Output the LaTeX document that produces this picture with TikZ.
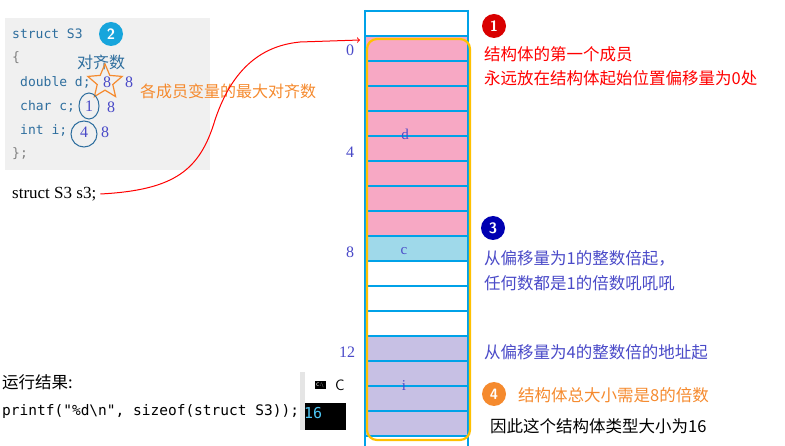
\documentclass[tikz,border=0pt]{standalone}
\usepackage{fontspec}
\setmainfont{Liberation Serif}
\newfontfamily\cjk{Noto Sans CJK SC}
\newfontfamily\mono{DejaVu Sans Mono}
\usetikzlibrary{shapes.geometric}
\definecolor{pinkc}{HTML}{F7A8C4}
\definecolor{cyanc}{HTML}{9FD9EA}
\definecolor{purc}{HTML}{C7C0E4}
\definecolor{bluel}{HTML}{00A2E8}
\definecolor{yel}{HTML}{FFC000}
\definecolor{numc}{HTML}{4A4AC8}
\definecolor{codec}{HTML}{2E6E9E}
\definecolor{orn}{HTML}{F58A2E}
\tikzset{
 cjkt/.style={font=\cjk\fontsize{16.5}{19}\selectfont, anchor=west, inner sep=0},
 num/.style={font=\fontsize{16}{18}\selectfont, text=numc, inner sep=0},
 code/.style={font=\mono\fontsize{13}{15}\selectfont, text=codec, anchor=west, inner sep=0},
 badge/.style={circle, fill=#1, text=white, minimum size=24pt, inner sep=0, font=\sffamily\bfseries\fontsize{15}{16}\selectfont}
}
\begin{document}
\begin{tikzpicture}[x=1pt,y=-1pt]
\useasboundingbox (0,0) rectangle (785,446);
% code box
\fill[gray!12] (5,18) rectangle (210,170);
\node[code] (l1) at (12,34) {struct S3};
\node[badge={cyan!80!teal}] (b2) at (111,34) {2};
\node[code,text=gray] (l2) at (12,58) {\{};
\node[code] (l3) at (20,82) {double d;};
\node[code] (l4) at (20,106) {char c;};
\node[code] (l5) at (20,130) {int i;};
\node[code,text=gray] (l6) at (12,154) {\};};
\node[font=\cjk\fontsize{16}{18}\selectfont, text=codec] (dq) at (101,62) {对齐数};
\node[star, star points=5, star point ratio=2.2, draw=orn, line width=1.2pt, minimum size=36pt, inner sep=0] (st) at (105,82) {};
\node[num] (n8a) at (107,82) {8};
\node[num] (n8b) at (129,82) {8};
\node[num] (n1) at (89,106) {1};
\node[draw=codec, ellipse, line width=1pt, minimum width=20pt, minimum height=26pt] (e1) at (89,106) {};
\node[num] (n8c) at (111,107) {8};
\node[num] (n4) at (84,132) {4};
\node[draw=codec, ellipse, line width=1pt, minimum width=26pt, minimum height=26pt] (e4) at (84,134) {};
\node[num] (n8d) at (105,132) {8};
\node[cjkt, text=orn, font=\cjk\fontsize{16}{18}\selectfont] (lab) at (140,91) {各成员变量的最大对齐数};
\node[anchor=west, inner sep=0, font=\fontsize{17}{19}\selectfont] (s3) at (12,194) {struct S3 s3;};
% memory
\fill[pinkc] (365,36) rectangle (468,236);
\fill[cyanc] (365,236) rectangle (468,261);
\fill[purc] (365,336) rectangle (468,436);
\foreach \k in {0,...,17} \draw[bluel, line width=2pt] (365,{36+25*(\k-1)}) -- (468,{36+25*(\k-1)});
\draw[bluel, line width=2pt] (365,10) -- (365,446) (468,10) -- (468,446);
\draw[yel, line width=2.2pt, rounded corners=10pt] (367,39) rectangle (470,440);
\node[font=\fontsize{15}{17}\selectfont, text=numc] (d) at (405,134) {d};
\node[font=\fontsize{15}{17}\selectfont, text=numc] (c) at (404,251) {c};
\node[font=\fontsize{15}{17}\selectfont, text=numc] (i) at (404,386) {i};
\node[num] (o0) at (350,50) {0};
\node[num] (o4) at (350,152) {4};
\node[num] (o8) at (350,252) {8};
\node[num] (o12) at (347,352) {12};
% red arrow
\draw[red, line width=1pt, ->] (s3.east) ++(4,0) .. controls (175,190) and (200,170) .. (215,120) .. controls (235,60) and (270,45) .. (300,42) -- (360,40);
% right side
\node[badge=red!85!black] (b1) at (494,26) {1};
\node[cjkt, text=red] (t1) at (484,54) {结构体的第一个成员};
\node[cjkt, text=red] (t1b) at (484,78) {永远放在结构体起始位置偏移量为0处};
\node[badge=blue!70!black] (b3) at (493,228) {3};
\node[cjkt, text=numc] (t3) at (484,258) {从偏移量为1的整数倍起，};
\node[cjkt, text=numc] (t3b) at (484,283) {任何数都是1的倍数吼吼吼};
\node[cjkt, text=numc] (t3c) at (484,352) {从偏移量为4的整数倍的地址起};
\node[badge=orn] (b4) at (494,394) {4};
\node[cjkt, text=orn] (t4) at (518,395) {结构体总大小需是8的倍数};
\node[cjkt] (t5) at (490,426) {因此这个结构体类型大小为16};
% run result
\node[cjkt] (rr) at (2,382) {运行结果:};
\node[code, text=black, font=\mono\fontsize{14.5}{16}\selectfont] (pf) at (2,412) {printf("\%d\textbackslash n", sizeof(struct S3));};
\fill[gray!20] (300,372) rectangle (305,430);
\fill[black] (305,403) rectangle (346,430);
\node[anchor=west, text=cyan!70, font=\mono\fontsize{15}{16}\selectfont, inner sep=0] (r16) at (304,413) {16};
\node[draw, fill=black, text=white, font=\sffamily\fontsize{5}{6}\selectfont, inner sep=1pt] (ic) at (320,385) {C:\textbackslash};
\node[anchor=west, inner sep=0, font=\sffamily\fontsize{15}{16}\selectfont] (cc) at (335,385) {C};
\end{tikzpicture}
\end{document}
